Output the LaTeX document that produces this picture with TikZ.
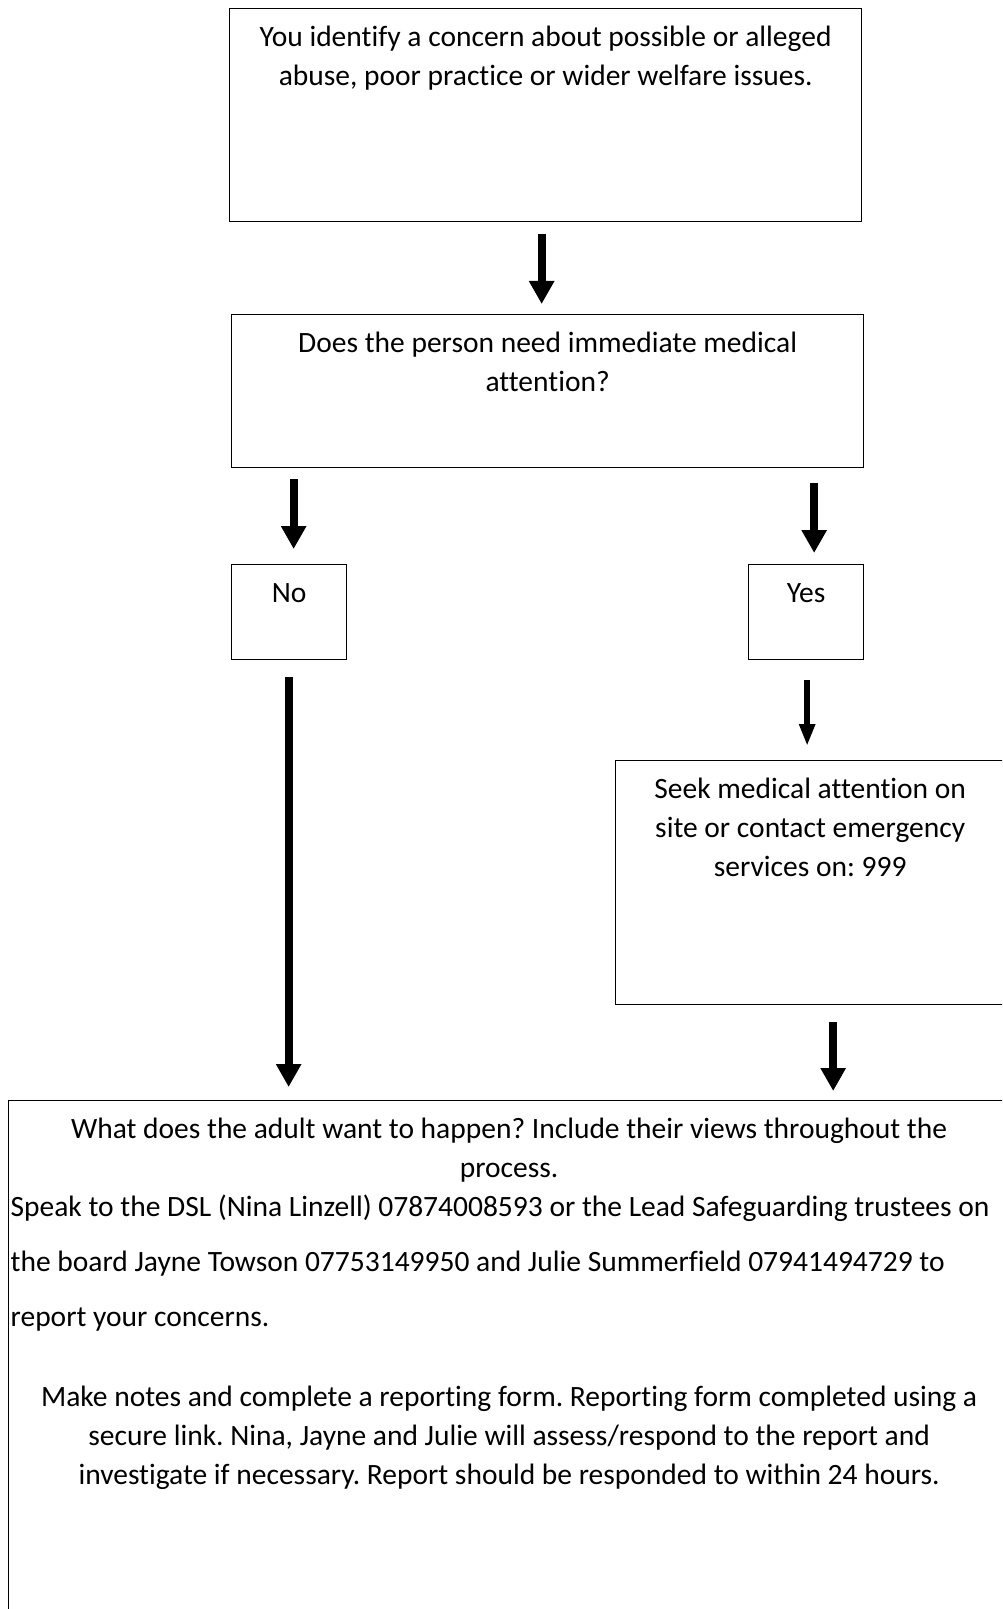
\documentclass[tikz,border=0pt]{standalone}
\usepackage{fontspec}
\setmainfont{Carlito}[Ligatures=NoCommon]
\usetikzlibrary{arrows.meta,calc}
\frenchspacing
\begin{document}
\begin{tikzpicture}[x=0.5pt,y=-0.5pt,
  box/.style={draw, line width=0.65pt, inner sep=0pt, anchor=north west, font=\fontsize{14.75pt}{19.5pt}\selectfont},
  bigarrow/.style={line width=4pt, -{Triangle[width=12pt,length=11.5pt]}},
  thinarrow/.style={line width=2.9pt, -{Triangle[width=7.5pt,length=11pt]}}]
\useasboundingbox[fill=white] (0,0) rectangle (1002,1609);
\clip (0,0) rectangle (1002,1609);
\node[box] (concern) at (229,8){\parbox[t][106.5pt][t]{316pt}{\centering\rule{0pt}{19pt}You identify a concern about possible or alleged\\abuse, poor practice or wider welfare issues.}};
\node[box] (medical) at (231,314){\parbox[t][76.5pt][t]{316pt}{\centering\rule{0pt}{19pt}Does the person need immediate medical\\attention?}};
\node[box] (no) at (231,564){\parbox[t][47.5pt][t]{57.5pt}{\centering\rule{0pt}{19pt}No}};
\node[box] (yes) at (748,564){\parbox[t][47.5pt][t]{57.5pt}{\centering\rule{0pt}{19pt}Yes}};
\node[box] (seek) at (615,760){\parbox[t][122pt][t]{194.5pt}{\centering\rule{0pt}{19pt}Seek medical attention on\\site or contact emergency\\services on: 999}};
\node[box] (adult) at (8,1100){\parbox[t][300pt][t]{500.5pt}{\centering\rule{0pt}{19pt}What does the adult want to happen? Include their views throughout the\\process.\\
\makebox[\linewidth][l]{\hspace{1pt}Speak to the DSL (Nina Linzell) 07874008593 or the Lead Safeguarding trustees on}\\[8pt]
\makebox[\linewidth][l]{\hspace{1pt}the board Jayne Towson 07753149950 and Julie Summerfield 07941494729 to}\\[8pt]
\makebox[\linewidth][l]{\hspace{1pt}report your concerns.}\\[20.5pt]
Make notes and complete a reporting form. Reporting form completed using a\\secure link. Nina, Jayne and Julie will assess/respond to the report and\\investigate if necessary. Report should be responded to within 24 hours.}};
\draw[bigarrow] ($(concern.south)+(-4,12)$) -- ($(medical.north -| concern.south)+(-4,-10)$);
\draw[bigarrow] ($(medical.south -| no.north)+(4.5,11)$) -- ($(no.north)+(4.5,-15)$);
\draw[bigarrow] ($(medical.south -| yes.north)+(8,15)$) -- ($(yes.north)+(8,-11)$);
\draw[bigarrow] ($(no.south)+(-0.5,17)$) -- ($(adult.north -| no.south)+(-0.5,-13)$);
\draw[thinarrow] ($(yes.south)+(1,20)$) -- ($(seek.north -| yes.south)+(1,-14)$);
\draw[bigarrow] ($(seek.south)+(23,17)$) -- ($(adult.north -| seek.south)+(23,-9)$);
\end{tikzpicture}
\end{document}
